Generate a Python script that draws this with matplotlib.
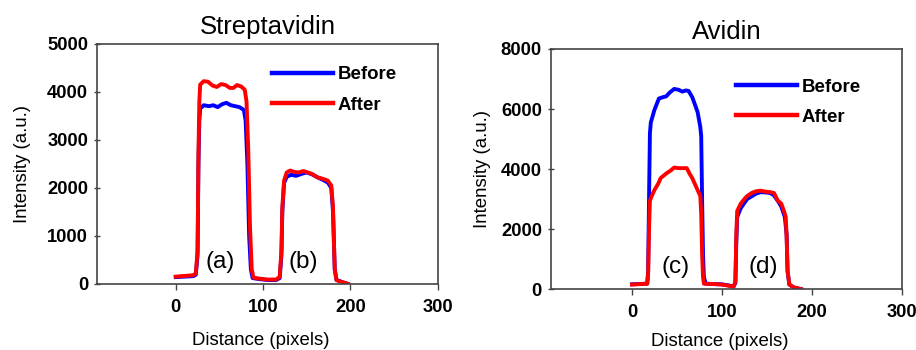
import matplotlib.pyplot as plt
import numpy as np

plt.rcParams['font.family'] = ['Liberation Sans', 'DejaVu Sans']

# ---- Streptavidin profile (distance in pixels, intensity in a.u.) ----
strep_before_x = [0, 10, 20, 23, 25, 26, 27, 28, 32, 38, 43, 48, 53, 58, 63, 68, 73, 78,
                  80, 82, 84, 86, 88, 95, 105, 115, 119, 121, 122, 124, 127, 132, 138,
                  144, 150, 156, 162, 168, 174, 178, 180, 181, 182, 184, 190, 197]
strep_before_y = [140, 150, 160, 190, 600, 2500, 3400, 3650, 3720, 3700, 3720, 3680, 3740,
                  3770, 3720, 3700, 3680, 3620, 3400, 2500, 1000, 300, 120, 100, 80, 80,
                  120, 600, 1500, 2100, 2230, 2270, 2250, 2290, 2320, 2280, 2220, 2170,
                  2110, 2000, 1500, 900, 300, 80, 40, 0]
strep_after_x = [0, 10, 20, 23, 25, 26, 27, 28, 32, 37, 42, 47, 52, 57, 62, 66, 70, 75,
                 79, 81, 83, 85, 87, 89, 95, 105, 115, 119, 121, 122, 124, 127, 131, 136,
                 141, 146, 151, 156, 162, 168, 174, 178, 180, 181, 182, 184, 190, 197]
strep_after_y = [150, 165, 180, 220, 700, 2700, 3800, 4150, 4220, 4210, 4130, 4100, 4160,
                 4140, 4080, 4080, 4140, 4110, 4040, 3800, 2800, 1200, 300, 130, 110, 90,
                 90, 150, 700, 1600, 2150, 2320, 2360, 2330, 2320, 2350, 2320, 2290, 2220,
                 2190, 2150, 2050, 1600, 900, 300, 80, 40, 0]

# ---- Avidin profile ----
avid_before_x = [0, 8, 17, 18, 19, 20, 21, 25, 30, 35, 38, 42, 47, 52, 56, 60, 63, 67, 70,
                 73, 76, 77, 78, 79, 80, 82, 90, 100, 108, 113, 115, 116, 117, 121, 128,
                 138, 143, 149, 154, 158, 163, 166, 170, 172, 173, 175, 180, 188]
avid_before_y = [160, 170, 180, 600, 3000, 5200, 5550, 5970, 6350, 6400, 6420, 6550, 6670,
                 6640, 6580, 6620, 6600, 6400, 6150, 5900, 5400, 5100, 3000, 1200, 400,
                 180, 170, 160, 120, 90, 200, 1500, 2400, 2700, 3000, 3180, 3230, 3220,
                 3200, 3120, 2900, 2750, 2400, 1800, 600, 150, 50, 0]
avid_after_x = [0, 8, 17, 18, 19, 20, 22, 25, 29, 32, 38, 43, 47, 52, 57, 61, 64, 67, 70,
                73, 76, 77, 78, 79, 80, 90, 100, 108, 113, 115, 116, 117, 121, 125, 128,
                133, 138, 143, 148, 154, 158, 162, 166, 169, 171, 172, 173, 175, 180, 188]
avid_after_y = [150, 165, 180, 500, 2000, 2950, 3100, 3300, 3500, 3700, 3850, 3950, 4050,
                4030, 4030, 4030, 3850, 3700, 3500, 3300, 3100, 2500, 1200, 400, 180, 170,
                150, 110, 80, 250, 1800, 2600, 2850, 3000, 3100, 3200, 3260, 3280, 3250,
                3230, 3200, 2950, 2850, 2600, 2400, 1700, 600, 150, 60, 0]

x_ticks = [0, 100, 200, 300]
strep_yticks = [0, 1000, 2000, 3000, 4000, 5000]
avid_yticks = [0, 2000, 4000, 6000, 8000]

fig = plt.figure(figsize=(9.16, 3.5), dpi=100)
ax1 = fig.add_axes([0.106, 0.189, 0.372, 0.686])
ax2 = fig.add_axes([0.6015, 0.174, 0.383, 0.686])


def style_panel(ax, title, yticks, ymax, peak_labels, label_y, ylab_x, xlab_y, leg_pos):
    ax.set_xlim(-90, 300)
    ax.set_ylim(0, ymax)
    ax.set_xticks(x_ticks)
    ax.set_yticks(yticks)
    ax.tick_params(labelsize=13.2, color='#444444', width=1.0)
    ax.tick_params(axis='y', direction='inout', length=5, pad=4)
    ax.tick_params(axis='x', direction='out', length=4, pad=7)
    for lab in ax.get_xticklabels() + ax.get_yticklabels():
        lab.set_fontweight('bold')
    for sp in ax.spines.values():
        sp.set_color('#444444')
        sp.set_linewidth(1.2)
    ax.set_title(title, fontsize=18.5, y=1.005)
    ax.set_ylabel('Intensity (a.u.)', fontsize=13.4)
    ax.yaxis.set_label_coords(ylab_x, 0.5)
    ax.set_xlabel('Distance (pixels)', fontsize=13.4)
    ax.xaxis.set_label_coords(0.48, xlab_y)
    for txt, xp in peak_labels:
        ax.text(xp, label_y, txt, ha='center', va='center', fontsize=17.5)
    leg = ax.legend(loc='upper left', bbox_to_anchor=leg_pos, frameon=False,
                    prop={'size': 13.4, 'weight': 'bold'}, handlelength=3.3,
                    handletextpad=0.25, labelspacing=0.72, borderaxespad=0)
    for ln in leg.get_lines():
        ln.set_linewidth(3.2)


ax1.plot(strep_before_x, strep_before_y, color='#0000FF', lw=2.8, label='Before')
ax1.plot(strep_after_x, strep_after_y, color='#FF0000', lw=2.8, label='After')
style_panel(ax1, 'Streptavidin', strep_yticks, 5000,
            [('(a)', 51), ('(b)', 146)], 460, -0.193, -0.2, (0.49, 0.937))

ax2.plot(avid_before_x, avid_before_y, color='#0000FF', lw=2.8, label='Before')
ax2.plot(avid_after_x, avid_after_y, color='#FF0000', lw=2.8, label='After')
style_panel(ax2, 'Avidin', avid_yticks, 8000,
            [('(c)', 49), ('(d)', 146)], 730, -0.171, -0.183, (0.505, 0.908))

fig.savefig('out.png', dpi=100)
